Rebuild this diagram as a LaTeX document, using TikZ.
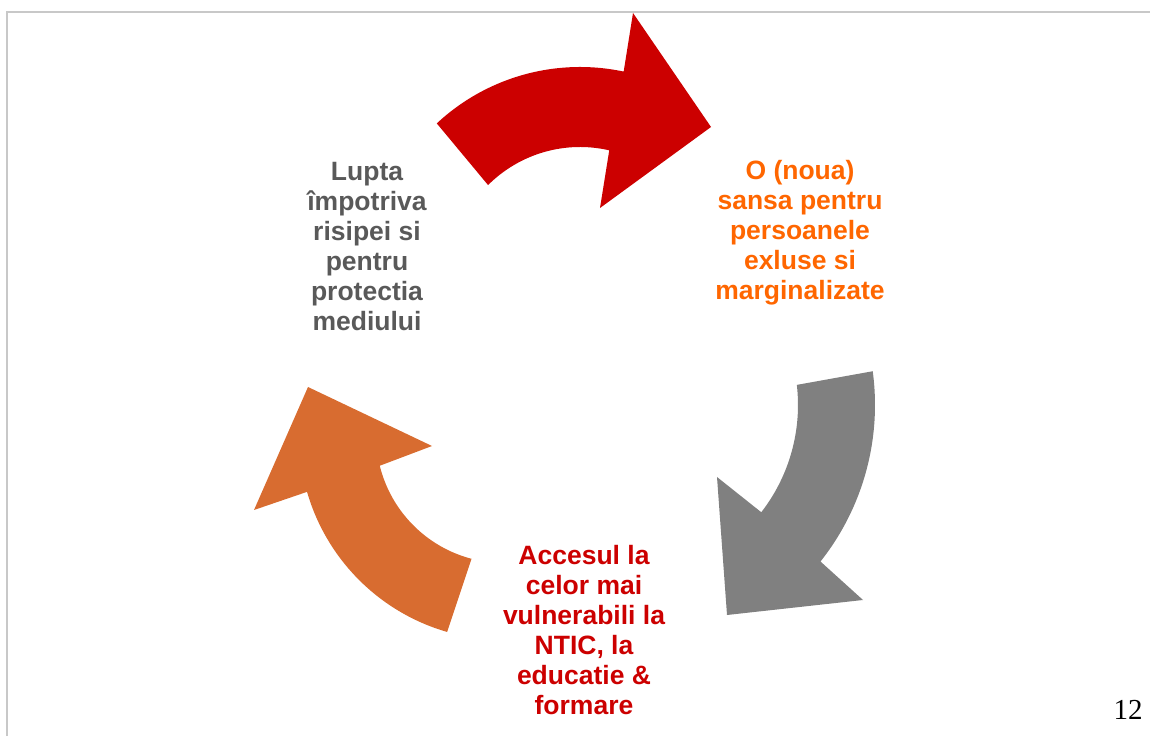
\documentclass[tikz,border=0pt]{standalone}
\usepackage{fontspec}
\setmainfont{Liberation Sans}
\newfontfamily\numfont{Liberation Serif}
\usetikzlibrary{calc}
\definecolor{framegray}{HTML}{C8C8C8}
\definecolor{txtgray}{HTML}{595959}
\definecolor{txtorange}{HTML}{FF6600}
\definecolor{myred}{HTML}{CC0000}
\definecolor{arrgray}{HTML}{808080}
\definecolor{arrorange}{HTML}{D86C30}
\tikzset{
  cyctext/.style={align=center, inner sep=0pt, anchor=north,
    font=\fontsize{26.5}{30}\selectfont\bfseries},
  cycarrow/.style={draw=none}
}
\begin{document}
\begin{tikzpicture}[x=1pt,y=1pt]
\useasboundingbox (0,0) rectangle (1150,736);
% frame
\draw[framegray, line width=1.5pt] (7,0) -- (7,724) -- (1150,724);
% centres of the arrow arcs
\coordinate (cR) at (580,459);
\coordinate (cG) at (623,331);
\coordinate (cO) at (504,301);
% red arrow
\fill[myred, cycarrow] ($(cR)+(133:210)$) arc[start angle=133, end angle=78, radius=210]
  -- (633,723) -- (711,609) -- (600,528)
  -- ($(cR)+(77:130)$) arc[start angle=77, end angle=135, radius=130] -- cycle;
% gray arrow
\fill[arrgray, cycarrow] ($(cG)+(7.7:252)$) arc[start angle=7.7, end angle=-38.4, radius=252]
  -- (863,136) -- (727,121) -- (717,259)
  -- ($(cG)+(-37.8:175)$) arc[start angle=-37.8, end angle=6.6, radius=175] -- cycle;
% orange arrow
\fill[arrorange, cycarrow] ($(cO)+(-106.1:205)$) arc[start angle=-106.1, end angle=-163.9, radius=205]
  -- (254,226) -- (308,349) -- (432,290)
  -- ($(cO)+(-166.1:128)$) arc[start angle=-166.1, end angle=-104.7, radius=128] -- cycle;
% texts
\node[cyctext, text=txtgray] (lupta) at (367,573.5)
  {Lupta\\împotriva\\risipei si\\pentru\\protectia\\mediului};
\node[cyctext, text=txtorange] (sansa) at (800,576)
  {O (noua)\\sansa pentru\\persoanele\\exluse si\\marginalizate};
\node[cyctext, text=myred] (acces) at (584,191)
  {Accesul la\\celor mai\\vulnerabili la\\NTIC, la\\educatie \&\\formare};
\node[inner sep=0pt, anchor=base, font=\numfont\fontsize{29}{32}\selectfont] (pagenum) at (1128,17) {12};
\end{tikzpicture}
\end{document}
